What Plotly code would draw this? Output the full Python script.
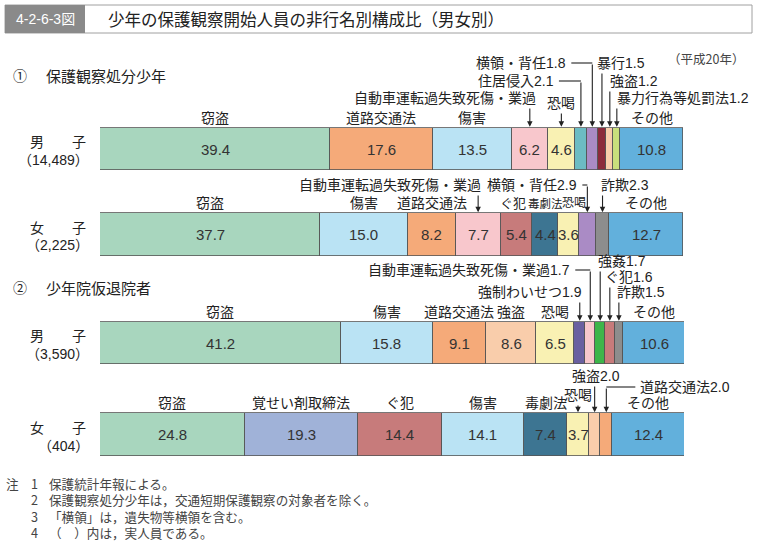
import plotly.graph_objects as go

# ---------------- data ----------------
row_names = ["男　　子", "女　　子", "男　　子", "女　　子"]
row_counts = ["（14,489）", "（2,225）", "（3,590）", "（404）"]

cats1 = ["窃盗", "道路交通法", "傷害", "自動車運転過失致死傷・業過", "恐喝", "住居侵入",
         "横領・背任", "暴行", "強盗", "暴力行為等処罰法", "その他"]
vals1 = [39.4, 17.6, 13.5, 6.2, 4.6, 2.1, 1.8, 1.5, 1.2, 1.2, 10.8]

cats2 = ["窃盗", "傷害", "道路交通法", "自動車運転過失致死傷・業過", "ぐ犯", "毒劇法", "恐喝",
         "横領・背任", "詐欺", "その他"]
vals2 = [37.7, 15.0, 8.2, 7.7, 5.4, 4.4, 3.6, 2.9, 2.3, 12.7]

cats3 = ["窃盗", "傷害", "道路交通法", "強盗", "恐喝", "強制わいせつ", "自動車運転過失致死傷・業過",
         "強姦", "ぐ犯", "詐欺", "その他"]
vals3 = [41.2, 15.8, 9.1, 8.6, 6.5, 1.9, 1.7, 1.7, 1.6, 1.5, 10.6]

cats4 = ["窃盗", "覚せい剤取締法", "ぐ犯", "傷害", "毒劇法", "恐喝", "強盗", "道路交通法", "その他"]
vals4 = [24.8, 19.3, 14.4, 14.1, 7.4, 3.7, 2.0, 2.0, 12.4]

section_titles = ["保護観察処分少年", "少年院仮退院者"]
notes = ["保護統計年報による。",
         "保護観察処分少年は，交通短期保護観察の対象者を除く。",
         "「横領」は，遺失物等横領を含む。",
         "（　）内は，実人員である。"]

# ---------------- styles ----------------
COL = {
    "窃盗": "#a8d6be", "道路交通法": "#f5aa79", "傷害": "#bae3f4",
    "自動車運転過失致死傷・業過": "#f8c7cc", "恐喝": "#f9f1b3", "住居侵入": "#6cbcc3",
    "横領・背任": "#aa8bc5", "暴行": "#8c2a3b", "強盗": "#f9cdab",
    "暴力行為等処罰法": "#c9df7c", "その他": "#62b0dc", "ぐ犯": "#c77b7b",
    "毒劇法": "#3d7592", "詐欺": "#8d8d8d", "強制わいせつ": "#6a60a0",
    "強姦": "#3db54a", "覚せい剤取締法": "#a0b2d8",
}
FONT = "Liberation Sans, Noto Sans CJK JP, sans-serif"
JFONT = "Noto Sans CJK JP, sans-serif"
TXT = "#222222"
PX = 584 / 100.0          # pixels per percent
BW = 42.5                 # bar thickness (px units on y axis)
row_y = [149, 234.5, 343, 434.5]

# label placement specs (per segment): kind, text-y, anchor, dx(px)
A = ("above", None, "center", 0)
specs = [
    [A, A, A, ("arrow", 98, "right", 8), ("arrow", 103, "center", 0),
     ("elbow", 81, "right", -25), ("elbow", 63, "right", -24),
     ("arrow", 63, "left", -7), ("arrow", 81, "left", -2), ("arrow", 98, "left", -2), A],
    [A, A, A, ("arrow", 185, "right", 5), ("above", None, "center", -3),
     ("above", None, "center", 0), ("above", None, "center", 6),
     ("elbow", 185, "right", -8), ("arrow", 185, "left", -4), A],
    [A, A, A, A, A, ("arrow", 292, "right", 4), ("elbow", 270, "right", -18),
     ("arrow", 261, "left", -4), ("arrow", 277, "left", -7), ("arrow", 292, "left", -4), A],
    [A, A, A, A, A, ("arrow", 395, "center", 0), ("arrow", 376, "center", 1),
     ("elbow", 387, "left", 32), A],
]
small_font = {(1, 5): 11.5, (1, 6): 12, (1, 4): 13}

rows = [(cats1, vals1), (cats2, vals2), (cats3, vals3), (cats4, vals4)]

fig = go.Figure()
ann = []
shapes = []


def dpx(p):
    return p / PX


def px2x(px):
    return (px - 100) / 584.0


def py2y(py):
    return 1 - py / 545.0


for ri, ((cats, vals), yc) in enumerate(zip(rows, row_y)):
    top = yc - BW / 2
    cum = 0.0
    for si, (cat, v) in enumerate(zip(cats, vals)):
        fig.add_trace(go.Bar(
            x=[v], y=[yc], orientation="h", width=[BW],
            marker=dict(color=COL[cat], line=dict(color="#555555", width=0.8)),
            showlegend=False, hoverinfo="skip"))
        xc = cum + v / 2
        inside = v >= 3.5
        if inside:
            ann.append(dict(x=xc, y=yc, xref="x", yref="y", text=f"{v:.1f}",
                            showarrow=False, font=dict(family=FONT, size=15, color="#333333")))
        label = cat if inside else f"{cat}{v:.1f}"
        kind, ty, anchor, dx = specs[ri][si]
        fs = small_font.get((ri, si), 14)
        if kind == "above":
            ann.append(dict(x=xc + dpx(dx), y=top - 10, xref="x", yref="y", text=label,
                            showarrow=False, xanchor="center", yanchor="middle",
                            font=dict(family=FONT, size=fs, color=TXT)))
        elif kind == "arrow":
            ann.append(dict(x=xc + dpx(dx), y=ty, xref="x", yref="y", text=label,
                            showarrow=False, xanchor=anchor, yanchor="middle",
                            font=dict(family=FONT, size=fs, color=TXT)))
            ann.append(dict(x=xc, y=top - 1, ax=xc, ay=ty + 9, xref="x", yref="y",
                            axref="x", ayref="y", text="", showarrow=True,
                            arrowhead=2, arrowsize=1, arrowwidth=1.1, arrowcolor="#222222",
                            standoff=0))
        elif kind == "elbow":
            ann.append(dict(x=xc + dpx(dx), y=ty, xref="x", yref="y", text=label,
                            showarrow=False, xanchor=anchor, yanchor="middle",
                            font=dict(family=FONT, size=fs, color=TXT)))
            edge = xc + dpx(dx + (3 if dx < 0 else -3))
            shapes.append(dict(type="line", xref="x", yref="y", x0=edge, x1=xc,
                               y0=ty, y1=ty, line=dict(color="#222222", width=1.1)))
            ann.append(dict(x=xc, y=top - 1, ax=xc, ay=ty, xref="x", yref="y",
                            axref="x", ayref="y", text="", showarrow=True,
                            arrowhead=2, arrowsize=1, arrowwidth=1.1, arrowcolor="#222222",
                            standoff=0))
        cum += v
    # row labels
    ann.append(dict(x=px2x(88), y=py2y(yc - 8), xref="paper", yref="paper", text=row_names[ri],
                    showarrow=False, xanchor="right", yanchor="middle",
                    font=dict(family=JFONT, size=14, color=TXT)))
    ann.append(dict(x=px2x(91), y=py2y(yc + 11), xref="paper", yref="paper", text=row_counts[ri],
                    showarrow=False, xanchor="right", yanchor="middle",
                    font=dict(family=FONT, size=14, color=TXT)))


# title box
shapes.append(dict(type="rect", xref="paper", yref="paper", x0=px2x(5), x1=px2x(752),
                   y0=py2y(33), y1=py2y(5), line=dict(color="#a0a0a0", width=1),
                   fillcolor="white", layer="below"))
shapes.append(dict(type="rect", xref="paper", yref="paper", x0=px2x(5), x1=px2x(85),
                   y0=py2y(33), y1=py2y(5), line=dict(width=0), fillcolor="#8a8a8a"))
ann.append(dict(x=px2x(45), y=py2y(19), xref="paper", yref="paper", text="4-2-6-3図",
                showarrow=False, xanchor="center", yanchor="middle",
                font=dict(family=FONT, size=14, color="white")))
ann.append(dict(x=px2x(106), y=py2y(19), xref="paper", yref="paper",
                text="少年の保護観察開始人員の非行名別構成比（男女別）",
                showarrow=False, xanchor="left", yanchor="middle",
                font=dict(family=JFONT, size=16.5, color=TXT)))
ann.append(dict(x=px2x(746), y=py2y(58), xref="paper", yref="paper", text="（平成20年）",
                showarrow=False, xanchor="right", yanchor="middle",
                font=dict(family=JFONT, size=12.5, color="#444444")))

# section titles
for mark, title, py in zip(["①", "②"], section_titles, [75, 287]):
    ann.append(dict(x=px2x(11), y=py2y(py), xref="paper", yref="paper", text=mark,
                    showarrow=False, xanchor="left", yanchor="middle",
                    font=dict(family=JFONT, size=14, color=TXT)))
    ann.append(dict(x=px2x(44), y=py2y(py), xref="paper", yref="paper", text=title,
                    showarrow=False, xanchor="left", yanchor="middle",
                    font=dict(family=JFONT, size=15, color=TXT)))

# notes (one block per column so that lines share a single text box)
NF = 12.6
first_line = 483
mid = first_line + 1.5 * 1.3 * NF
ann.append(dict(x=px2x(5), y=py2y(first_line), xref="paper", yref="paper", text="注",
                showarrow=False, xanchor="left", yanchor="middle", borderpad=0,
                font=dict(family=JFONT, size=NF, color="#444444")))
ann.append(dict(x=px2x(30), y=py2y(mid), xref="paper", yref="paper",
                text="<br>".join(str(i + 1) for i in range(len(notes))),
                showarrow=False, xanchor="left", yanchor="middle", align="left", borderpad=0,
                font=dict(family=JFONT, size=NF, color="#444444")))
ann.append(dict(x=px2x(48), y=py2y(mid), xref="paper", yref="paper",
                text="<br>".join(notes),
                showarrow=False, xanchor="left", yanchor="middle", align="left", borderpad=0,
                font=dict(family=JFONT, size=NF, color="#444444")))

fig.update_layout(
    width=759, height=545, barmode="stack",
    margin=dict(l=100, r=75, t=0, b=0, pad=0),
    paper_bgcolor="white", plot_bgcolor="white",
    xaxis=dict(range=[0, 100], visible=False, fixedrange=True),
    yaxis=dict(range=[545, 0], visible=False, fixedrange=True),
    annotations=ann, shapes=shapes, bargap=0,
)

fig.write_html("out.html", config={"displayModeBar": False},
               post_script="document.body.style.margin='0';document.body.style.overflow='hidden';")
